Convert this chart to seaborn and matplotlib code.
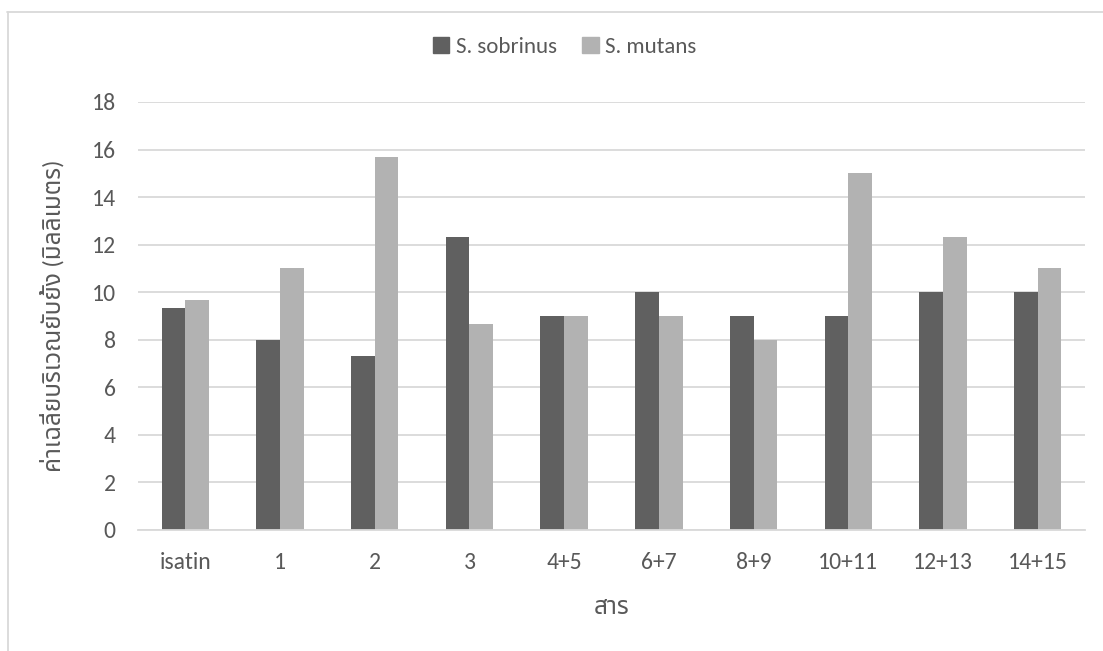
import matplotlib
matplotlib.use("Agg")
import matplotlib.pyplot as plt
from matplotlib import font_manager
from matplotlib.lines import Line2D
import seaborn as sns
import pandas as pd

# Data: mean inhibition zone (mm) per compound for two bacterial strains
compounds = ["isatin", "1", "2", "3", "4+5", "6+7", "8+9", "10+11", "12+13", "14+15"]
s_sobrinus = [9.33, 8, 7.33, 12.33, 9, 10, 9, 9, 10, 10]
s_mutans = [9.67, 11, 15.67, 8.67, 9, 9, 8, 15, 12.33, 11]
series_names = ["S. sobrinus", "S. mutans"]
y_ticks = [0, 2, 4, 6, 8, 10, 12, 14, 16, 18]

x_title = "สาร"
y_title = "ค่าเฉลี่ยบริเวณยับยั้ง (มิลลิเมตร)"

df = pd.DataFrame({
    "compound": compounds * 2,
    "value": s_sobrinus + s_mutans,
    "series": [series_names[0]] * len(compounds) + [series_names[1]] * len(compounds),
})

sns.set_theme(style="white")

available = {f.name for f in font_manager.fontManager.ttflist}
latin = next((f for f in ["Carlito", "Calibri", "Lato", "Open Sans", "DejaVu Sans"] if f in available), "DejaVu Sans")
thai = next((f for f in ["Noto Sans Thai", "Noto Sans Thai Looped", "IBM Plex Sans Thai",
                         "Sarabun", "Kanit"] if f in available), None)
families = [latin] + ([thai] if thai else []) + ["DejaVu Sans"]
plt.rcParams["font.family"] = families

text_color = "#595959"
grid_color = "#d9d9d9"
dark = "#606060"
light = "#b2b2b2"

fig = plt.figure(figsize=(11.03, 6.51), dpi=100)
ax = fig.add_axes([138 / 1103, 1 - 530 / 651, (1085 - 138) / 1103, (530 - 102) / 651])

sns.barplot(data=df, x="compound", y="value", hue="series", order=compounds,
            hue_order=series_names, palette=[dark, light], width=0.5,
            saturation=1, linewidth=0, ax=ax, legend=True)

ax.set_ylim(0, 18)
ax.set_yticks(y_ticks)
ax.set_xlim(-0.5, len(compounds) - 0.5)
ax.yaxis.grid(True, color=grid_color, linewidth=1.3)
ax.set_axisbelow(True)
for side in ["left", "right", "top"]:
    ax.spines[side].set_visible(False)
ax.spines["bottom"].set_color(grid_color)
ax.spines["bottom"].set_linewidth(1.3)
ax.tick_params(axis="both", length=0, labelsize=17, labelcolor=text_color)
ax.tick_params(axis="y", pad=16)
ax.tick_params(axis="x", pad=16)

ax.set_xlabel(x_title, fontsize=17.5, color=text_color, labelpad=17)
ax.set_ylabel(y_title, fontsize=17.5, color=text_color)
ax.yaxis.set_label_coords(-0.078, 0.5)

ax.legend_.remove()
handles = [plt.Rectangle((0, 0), 1, 1, color=c) for c in [dark, light]]
leg = fig.legend(handles, series_names, loc="center", bbox_to_anchor=(565 / 1103, 1 - 47 / 651),
                 ncol=2, frameon=False, fontsize=16.5, handlelength=0.7, handleheight=0.7,
                 handletextpad=0.3, columnspacing=1.1, labelcolor=text_color)

# chart border
fig.add_artist(Line2D([7 / 1103, 1.0], [1 - 12 / 651] * 2, color=grid_color, linewidth=1.3))
fig.add_artist(Line2D([7.5 / 1103] * 2, [0.0, 1 - 12 / 651], color=grid_color, linewidth=1.3))

fig.savefig("out.png", dpi=100)
